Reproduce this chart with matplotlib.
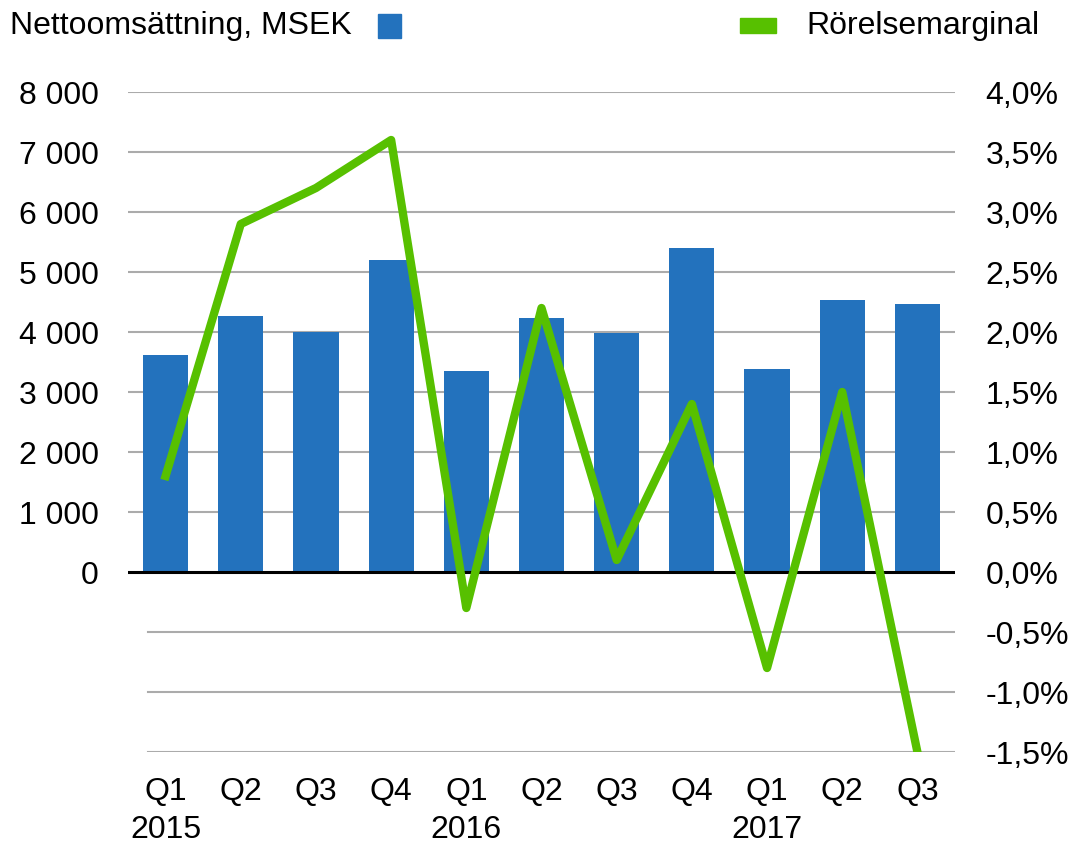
import numpy as np
import matplotlib.pyplot as plt
from matplotlib.patches import Rectangle

plt.rcParams['font.family'] = ['Liberation Sans', 'DejaVu Sans']

kvartal = ["Q1\n2015", "Q2", "Q3", "Q4", "Q1\n2016", "Q2", "Q3", "Q4", "Q1\n2017", "Q2", "Q3"]
omsattning = [3620, 4270, 4000, 5200, 3350, 4240, 3980, 5400, 3390, 4530, 4470]
marginal = [0.8, 2.9, 3.2, 3.6, -0.3, 2.2, 0.1, 1.4, -0.8, 1.5, -1.5]

blue = '#2372BD'
green = '#57C000'
fs = 23

fig = plt.figure(figsize=(10.72, 8.43), dpi=100)
ax = fig.add_axes([128/1072, 1 - 752/843, (955-128)/1072, (752-92)/843])
ax2 = ax.twinx()

x = np.arange(len(kvartal))
ax.bar(x, omsattning, width=0.6, color=blue, zorder=3)
ax.axhline(0, color='black', lw=2.2, zorder=4)
for yv in [1000, 2000, 3000, 4000, 5000, 6000, 7000, 8000]:
    ax.axhline(yv, color='#ababab', lw=1.5, zorder=1)
# negativa stödlinjer börjar lite längre in
for yv in [-1000, -2000, -3000]:
    ax.axhline(yv, xmin=0.024, color='#ababab', lw=1.5, zorder=1)

ax.set_xlim(-0.5, 10.5)
ax.set_ylim(-3000, 8000)
ax.set_yticks(range(0, 8001, 1000))
ax.set_yticklabels(["0" if v == 0 else f"{v // 1000} 000" for v in range(0, 8001, 1000)])
ax.set_xticks(x)
ax.set_xticklabels(kvartal, linespacing=1.35)

ax2.plot(x, marginal, color=green, lw=6, zorder=5, solid_joinstyle='round')
ax2.set_ylim(-1.5, 4.0)
rticks = np.arange(-1.5, 4.01, 0.5)
ax2.set_yticks(rticks)
ax2.set_yticklabels([f"{v:.1f}%".replace('.', ',') for v in rticks])

for a in (ax, ax2):
    for s in a.spines.values():
        s.set_visible(False)
    a.tick_params(length=0, labelsize=fs)
ax.tick_params(axis='y', pad=21)
ax.tick_params(axis='x', pad=18)
ax2.tick_params(axis='y', pad=22)

fig.text(10/1072, 1 - 26/843, "Nettoomsättning, MSEK", fontsize=fs, va='center', ha='left')
fig.patches.append(Rectangle((378/1072, 1 - 38/843), 23/1072, 24/843, transform=fig.transFigure, color=blue))
fig.patches.append(Rectangle((740/1072, 1 - 33/843), 36/1072, 15/843, transform=fig.transFigure, color=green))
fig.text(806/1072, 1 - 26/843, "Rörelsemarginal", fontsize=fs, va='center', ha='left')

fig.savefig('out.png', dpi=100)
